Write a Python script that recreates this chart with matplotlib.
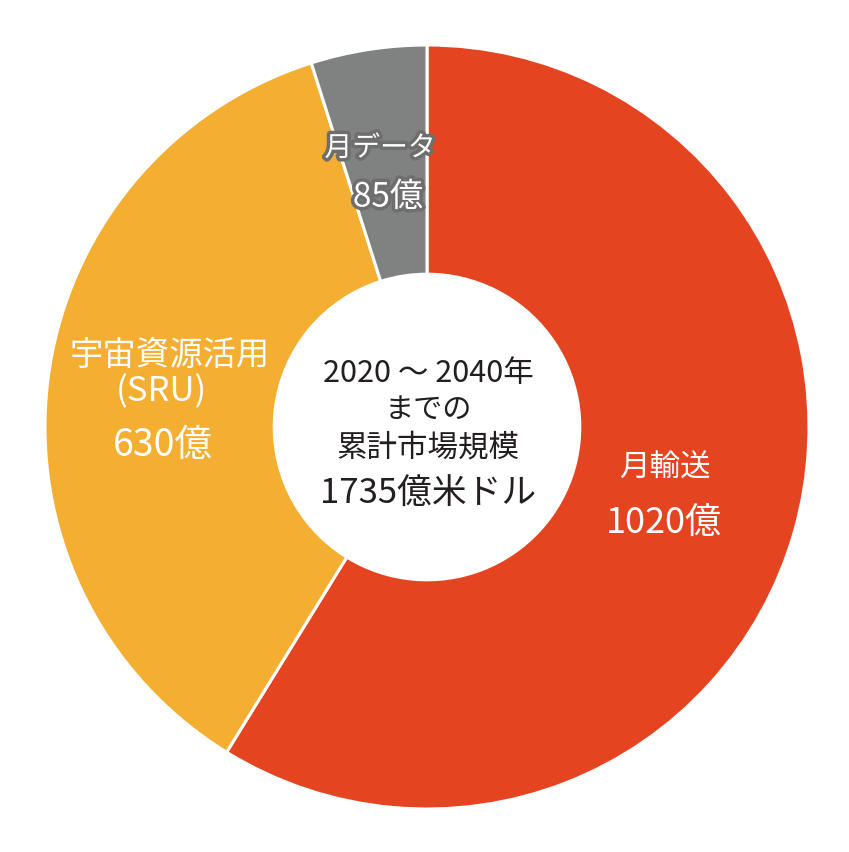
import matplotlib
matplotlib.use("Agg")
import matplotlib.pyplot as plt
import matplotlib.patheffects as pe

plt.rcParams['font.family'] = ['Noto Sans CJK JP', 'DejaVu Sans']

categories = ["月輸送", "宇宙資源活用\n(SRU)", "月データ"]
values = [1020, 630, 85]
value_labels = ["1020億", "630億", "85億"]
colors = ["#E54420", "#F4AE32", "#808181"]
center_lines = ["2020 ～ 2040年", "までの", "累計市場規模", "1735億米ドル"]

W, H = 849, 852
cx, cy, R = 427, 427, 382

fig = plt.figure(figsize=(W / 100, H / 100), dpi=100)
ax = fig.add_axes([0, 0, 1, 1])
ax.pie(values, colors=colors, startangle=90, counterclock=False, radius=1,
       wedgeprops=dict(width=0.6, edgecolor="white", linewidth=2.2))
ax.set_xlim(-cx / R, (W - cx) / R)
ax.set_ylim(-(H - cy) / R, cy / R)
ax.set_aspect('auto')
ax.axis('off')

def P(px, py):
    return (px - cx) / R, (cy - py) / R

# Category labels
x, y = P(665, 468)
ax.text(x, y, categories[0], color="white", fontsize=22, ha="center", va="center")
x, y = P(664, 523)
ax.text(x, y, value_labels[0], color="white", fontsize=26, ha="center", va="center")

x, y = P(170, 355)
ax.text(x, y, "宇宙資源活用", color="white", fontsize=24, ha="center", va="center")
x, y = P(161, 392)
ax.text(x, y, "(SRU)", color="white", fontsize=25, ha="center", va="center")
x, y = P(163, 445)
ax.text(x, y, value_labels[1], color="white", fontsize=27, ha="center", va="center")

stroke = [pe.withStroke(linewidth=5, foreground="#6E6E6E")]
x, y = P(380, 148)
ax.text(x, y, categories[2], color="white", fontsize=20, ha="center", va="center",
        path_effects=stroke)
x, y = P(388, 197)
ax.text(x, y, value_labels[2], color="white", fontsize=24, ha="center", va="center",
        path_effects=stroke)

# Center text
for (py, fs), line in zip([(373, 22), (410, 21), (448, 22), (494, 25)], center_lines):
    x, y = P(428, py)
    ax.text(x, y, line, color="#231F20", fontsize=fs, ha="center", va="center")

fig.savefig("out.png", dpi=100)
